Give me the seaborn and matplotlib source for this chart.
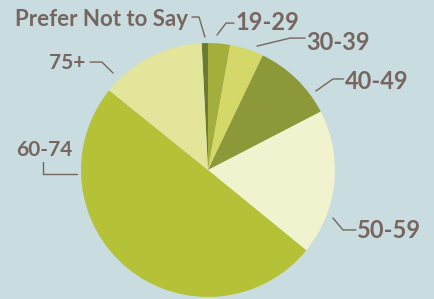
import matplotlib
matplotlib.use("Agg")
import matplotlib.pyplot as plt
import seaborn as sns
import numpy as np

# age groups, clockwise from top
groups = ["Prefer Not to Say", "19-29", "30-39", "40-49", "50-59", "60-74", "75+"]
shares = [0.8, 2.8, 4.3, 10.3, 18.5, 49.9, 13.4]
colors = ["#6b7a33", "#a4ae3b", "#d3d868", "#8d9839", "#f0f3cd", "#b5c136", "#e3e59b"]

bg = "#c9dcdf"
txt = "#76665f"

sns.set_theme(style="white")
plt.rcParams["font.family"] = ["Lato", "DejaVu Sans"]

fig = plt.figure(figsize=(4.34, 2.99), dpi=100, facecolor=bg)
ax = fig.add_axes([0, 0, 1, 1])
ax.set_facecolor(bg)

start = 90 + shares[0] / 100 * 360
ax.pie(shares, colors=colors, startangle=start, counterclock=False, radius=1,
       wedgeprops=dict(linewidth=0))

ax.set_xlim(-1.638, 1.780)
ax.set_ylim(-1.016, 1.339)
ax.set_aspect("equal")
ax.axis("off")

# label layout: text pos, alignment, size, leader line points
layout = {
    "Prefer Not to Say": ((-0.157, 1.185), "right", 16,
                          [(-0.126, 1.205), (-0.071, 1.205), (-0.024, 1.047)]),
    "19-29": ((0.213, 1.160), "left", 17,
              [(0.205, 1.157), (0.142, 1.157), (0.071, 1.063)]),
    "30-39": ((0.775, 1.003), "left", 17,
              [(0.764, 1.039), (0.646, 1.039), (0.386, 0.976)]),
    "40-49": ((1.075, 0.698), "left", 17,
              [(1.067, 0.717), (0.984, 0.717), (0.85, 0.622)]),
    "50-59": ((1.170, -0.475), "left", 17,
              [(1.165, -0.472), (1.063, -0.472), (0.984, -0.378)]),
    "60-74": ((-1.291, 0.160), "center", 15,
              [(-1.299, 0.063), (-1.299, -0.031), (-1.031, -0.031)]),
    "75+": ((-0.969, 0.843), "right", 15,
            [(-0.929, 0.850), (-0.835, 0.850), (-0.748, 0.764)]),
}

for g in groups:
    (tx, ty), ha, size, pts = layout[g]
    ax.text(tx, ty, g, ha=ha, va="center", fontsize=size, color=txt, fontweight="bold")
    xs, ys = zip(*pts)
    ax.plot(xs, ys, color=txt, linewidth=1)

fig.savefig("out.png", dpi=100, facecolor=bg)
